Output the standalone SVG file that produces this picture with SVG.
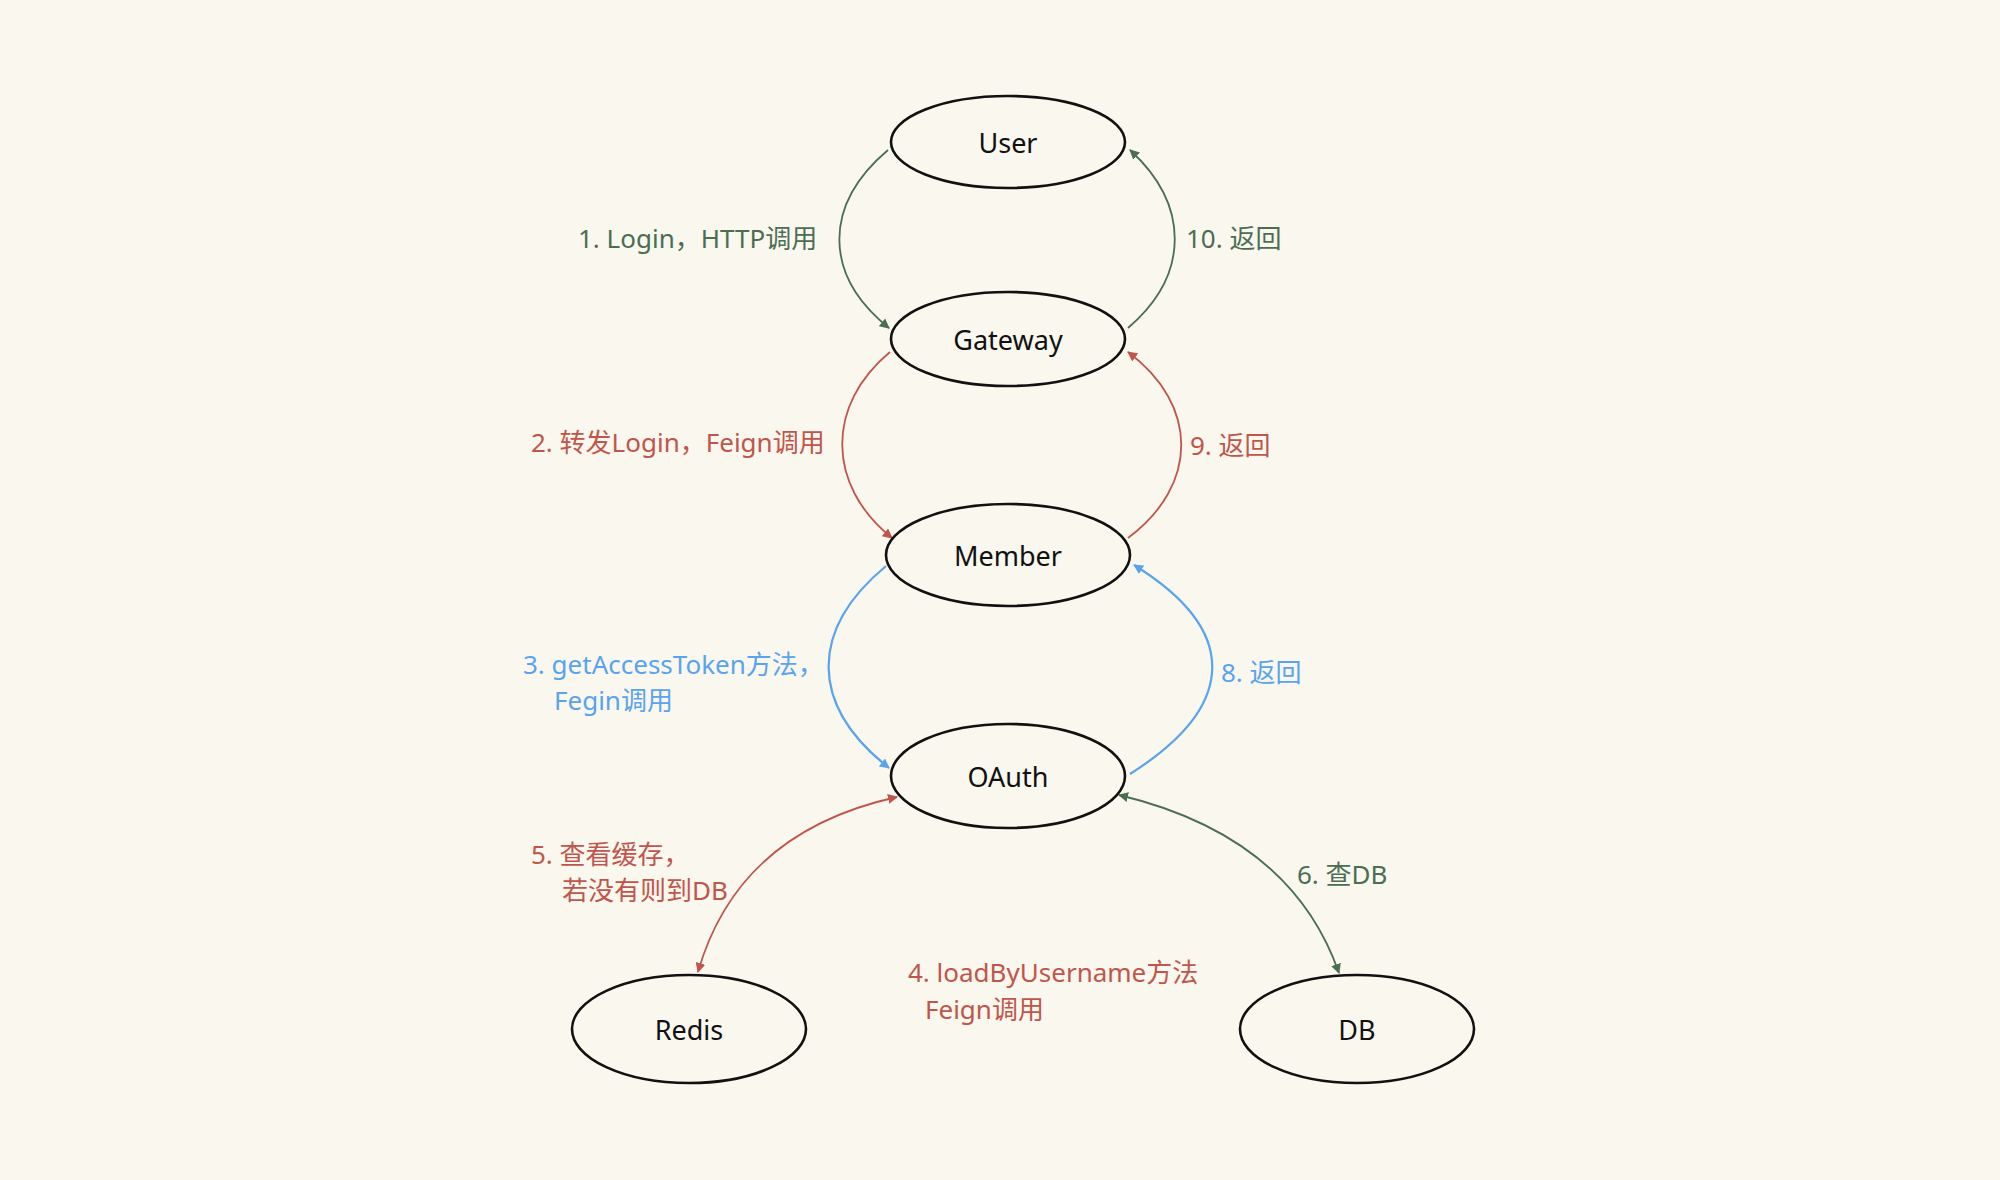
<svg xmlns="http://www.w3.org/2000/svg" width="2000" height="1180" viewBox="0 0 2000 1180">
<style>
.node ellipse{fill:none;stroke:#111;stroke-width:2.6}
.node text{font-family:"Noto Sans","Noto Sans CJK SC",sans-serif;font-size:27px;fill:#111;text-anchor:middle;dominant-baseline:central}
.lbl{font-family:"Noto Sans","Noto Sans CJK SC",sans-serif;font-size:26px}
.g{fill:#4b6e53}.r{fill:#c0564b}.b{fill:#5aa3ee}
.c{fill:none;stroke-width:1.8}
.cg{stroke:#4b6e53}.cr{stroke:#c0564b}.cb{stroke:#5aa3ee;stroke-width:2.2}
</style>
<defs>
<marker id="ag" viewBox="0 0 10 10" refX="9" refY="5" markerWidth="10" markerHeight="10" orient="auto-start-reverse" markerUnits="userSpaceOnUse"><path d="M0,0 L10,5 L0,10 z" fill="#4b6e53"/></marker>
<marker id="ar" viewBox="0 0 10 10" refX="9" refY="5" markerWidth="10" markerHeight="10" orient="auto-start-reverse" markerUnits="userSpaceOnUse"><path d="M0,0 L10,5 L0,10 z" fill="#c0564b"/></marker>
<marker id="ab" viewBox="0 0 10 10" refX="9" refY="5" markerWidth="10" markerHeight="10" orient="auto-start-reverse" markerUnits="userSpaceOnUse"><path d="M0,0 L10,5 L0,10 z" fill="#5aa3ee"/></marker>
</defs>
<rect width="2000" height="1180" fill="#f9f7ee"/>
<g id="connectors">
<path class="c cg" d="M888,150 C823,205 823,275 889,328" style="marker-end:url(#ag)"/>
<path class="c cg" d="M1128,328 C1190,275 1190,205 1130,150" style="marker-end:url(#ag)"/>
<path class="c cr" d="M890,352 C826,405 826,485 892,538" style="marker-end:url(#ar)"/>
<path class="c cr" d="M1128,538 C1199,485 1199,405 1128,352" style="marker-end:url(#ar)"/>
<path class="c cb" d="M886,566 C809,630 809,705 889,768" style="marker-end:url(#ab)"/>
<path class="c cb" d="M1130,774 C1239,705 1239,630 1134,565" style="marker-end:url(#ab)"/>
<path class="c cr" d="M698,972 Q738,832 897,797" style="marker-start:url(#ar);marker-end:url(#ar)"/>
<path class="c cg" d="M1119,795 Q1291,836 1339,973" style="marker-start:url(#ag);marker-end:url(#ag)"/>
</g>
<g id="labels">
<text class="lbl g" x="578" y="248">1. Login，HTTP调用</text>
<text class="lbl g" x="1186" y="248">10. 返回</text>
<text class="lbl r" x="531" y="452">2. 转发Login，Feign调用</text>
<text class="lbl r" x="1190" y="455">9. 返回</text>
<text class="lbl b" x="523" y="674">3. getAccessToken方法，</text>
<text class="lbl b" x="554" y="710">Fegin调用</text>
<text class="lbl b" x="1221" y="682">8. 返回</text>
<text class="lbl r" x="531" y="864">5. 查看缓存，</text>
<text class="lbl r" x="562" y="900">若没有则到DB</text>
<text class="lbl g" x="1297" y="884">6. 查DB</text>
<text class="lbl r" x="908" y="982">4. loadByUsername方法</text>
<text class="lbl r" x="925" y="1019">Feign调用</text>
</g>
<g id="user" class="node"><ellipse cx="1008" cy="142" rx="117" ry="46"/><text x="1008" y="142">User</text></g>
<g id="gateway" class="node"><ellipse cx="1008" cy="339" rx="117" ry="47"/><text x="1008" y="339">Gateway</text></g>
<g id="member" class="node"><ellipse cx="1008" cy="555" rx="122" ry="51"/><text x="1008" y="555">Member</text></g>
<g id="oauth" class="node"><ellipse cx="1008" cy="776" rx="117" ry="52"/><text x="1008" y="776">OAuth</text></g>
<g id="redis" class="node"><ellipse cx="689" cy="1029" rx="117" ry="54"/><text x="689" y="1029">Redis</text></g>
<g id="db" class="node"><ellipse cx="1357" cy="1029" rx="117" ry="54"/><text x="1357" y="1029">DB</text></g>
</svg>
